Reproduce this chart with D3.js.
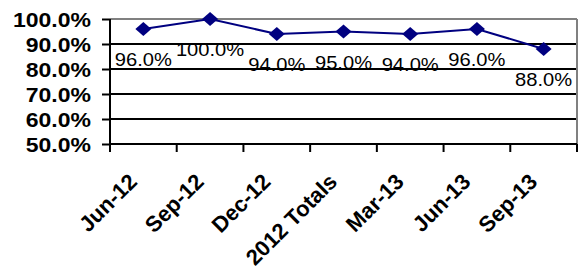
<!DOCTYPE html>
<html>
<head>
<meta charset="utf-8">
<script src="https://cdn.jsdelivr.net/npm/d3@7"></script>
<style>
  body { margin: 0; background: #fff; }
  svg { display: block; font-family: "Liberation Sans", Arial, sans-serif; }
</style>
</head>
<body>
<div id="chart"></div>
<script>
// Chart data
var categories = ["Jun-12", "Sep-12", "Dec-12", "2012 Totals", "Mar-13", "Jun-13", "Sep-13"];
var values = [96.0, 100.0, 94.0, 95.0, 94.0, 96.0, 88.0];
var yTicks = [50, 60, 70, 80, 90, 100];

var svgWidth = 584, svgHeight = 273;
var margin = { top: 19, right: 7, bottom: 129, left: 110 };
var width = svgWidth - margin.left - margin.right;
var height = svgHeight - margin.top - margin.bottom;

var svg = d3.select("#chart").append("svg")
    .attr("width", svgWidth)
    .attr("height", svgHeight);

var g = svg.append("g")
    .attr("transform", `translate(${margin.left}, ${margin.top})`);

var xScale = d3.scaleBand().domain(categories).range([0, width]).padding(0);
var yScale = d3.scaleLinear().domain([50, 100]).range([height, 0]);

// Gridlines
g.append("g").selectAll("line")
    .data(yTicks.filter(d => d > 50 && d < 100))
    .enter().append("line")
    .attr("x1", 0).attr("x2", width)
    .attr("y1", d => yScale(d)).attr("y2", d => yScale(d))
    .attr("stroke", "#000").attr("stroke-width", 2);

// Top and right border (gray)
g.append("line").attr("x1", 0).attr("x2", width).attr("y1", 0).attr("y2", 0)
    .attr("stroke", "#808080").attr("stroke-width", 2);
g.append("line").attr("x1", width).attr("x2", width).attr("y1", 0).attr("y2", height)
    .attr("stroke", "#808080").attr("stroke-width", 2);

// Y axis
var yAxis = d3.axisLeft(yScale).tickValues(yTicks).tickSize(8).tickFormat(d => d.toFixed(1) + "%");
var yg = g.append("g").call(yAxis);
yg.select(".domain").attr("stroke", "#000").attr("stroke-width", 2).attr("d", `M0,0V${height}`);
yg.selectAll(".tick line").attr("stroke", "#000").attr("stroke-width", 2);
yg.selectAll(".tick text")
    .attr("x", null).attr("dy", null)
    .attr("font-size", "20px").attr("font-weight", "bold").attr("fill", "#000")
    .attr("font-family", "'Liberation Sans', Arial, sans-serif")
    .attr("text-anchor", "end")
    .attr("transform", "translate(-19, 7) scale(1.15, 1)");

// X axis line and boundary ticks
g.append("line").attr("x1", 0).attr("x2", width).attr("y1", height).attr("y2", height)
    .attr("stroke", "#000").attr("stroke-width", 2);
var bounds = categories.map(c => xScale(c)).concat([width]);
g.append("g").selectAll("line")
    .data(bounds)
    .enter().append("line")
    .attr("x1", d => d).attr("x2", d => d)
    .attr("y1", height).attr("y2", height + 8)
    .attr("stroke", "#000").attr("stroke-width", 2);

// X labels (rotated)
g.append("g").selectAll("text")
    .data(categories)
    .enter().append("text")
    .text(d => d)
    .attr("transform", d => `translate(${xScale(d) + xScale.bandwidth() / 2 - 5}, ${height + 39}) rotate(-45)`)
    .attr("text-anchor", "end")
    .attr("font-size", "22px")
    .attr("font-weight", "bold")
    .attr("fill", "#000");

// Line
var line = d3.line()
    .x((d, i) => xScale(categories[i]) + xScale.bandwidth() / 2)
    .y(d => yScale(d));

g.append("path")
    .datum(values)
    .attr("d", line)
    .attr("fill", "none")
    .attr("stroke", "#000080")
    .attr("stroke-width", 2);

// Diamond markers
g.append("g").selectAll("path")
    .data(values)
    .enter().append("path")
    .attr("d", "M0,-7L8,0L0,7L-8,0Z")
    .attr("transform", (d, i) => `translate(${xScale(categories[i]) + xScale.bandwidth() / 2}, ${yScale(d)})`)
    .attr("fill", "#000080");

// Data labels
g.append("g").selectAll("text")
    .data(values)
    .enter().append("text")
    .text(d => d.toFixed(1) + "%")
    .attr("transform", (d, i) => `translate(${xScale(categories[i]) + xScale.bandwidth() / 2}, ${yScale(d) + 37}) scale(1.12, 1)`)
    .attr("text-anchor", "middle")
    .attr("font-size", "18px")
    .attr("fill", "#000");
</script>
</body>
</html>
